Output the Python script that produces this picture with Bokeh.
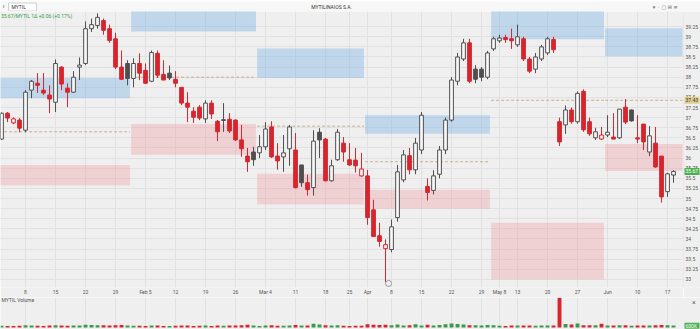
import numpy as np
import pandas as pd
from bokeh.plotting import figure
from bokeh.layouts import column, row
from bokeh.models import Range1d, FixedTicker, Grid
from bokeh.core.properties import value
from bokeh.embed import file_html
from bokeh.resources import INLINE

# ---------------- data ----------------
symbol = "MYTIL"
title = "MYTILINAIOS S.A."
holidays = ["2024-03-18", "2024-03-25", "2024-03-29", "2024-04-01",
            "2024-05-01", "2024-05-03", "2024-05-06", "2024-05-07"]
dates = pd.bdate_range("2024-01-02", "2024-06-18")
dates = dates[~dates.isin(pd.to_datetime(holidays))]

open_ = [36.47, 37.11, 36.87, 36.94, 36.69, 37.68, 37.85, 37.68, 37.56, 37.38,
         38.25, 37.73, 37.63, 38.25, 38.34, 39.20, 39.28, 39.40, 39.20, 38.95,
         38.25, 38.34, 37.97, 38.34, 38.17, 37.90, 38.59, 38.07, 38.10, 37.95,
         37.75, 37.36, 37.16, 37.26, 36.97, 37.36, 36.91, 36.95, 36.96, 36.94,
         36.45, 36.05, 36.15, 36.13, 36.28, 36.77, 36.05, 36.03, 36.23, 36.20,
         35.83, 35.39, 35.27, 36.64, 36.47, 35.44, 35.96, 36.37, 35.96, 35.95,
         35.56, 35.56, 34.72, 34.08, 33.76, 33.74, 34.53, 35.46, 36.06, 35.71,
         36.20, 35.30, 35.20, 35.60, 36.20, 36.94, 37.90, 38.45, 38.85, 38.20,
         38.20, 38.00, 38.70, 38.90, 38.98, 38.95, 38.80, 38.95, 38.45, 38.20,
         38.45, 38.60, 38.93, 36.90, 36.82, 37.19, 36.90, 37.65, 36.90, 36.50,
         36.47, 36.57, 36.52, 36.50, 37.26, 37.19, 36.50, 36.84, 36.15, 36.37,
         36.05, 35.17, 35.58]
high = [37.13, 37.14, 37.01, 36.99, 37.68, 37.93, 38.10, 38.10, 37.80, 38.44,
        38.27, 37.85, 38.15, 38.49, 39.38, 39.45, 39.58, 39.45, 39.30, 39.10,
        38.66, 38.42, 38.47, 38.59, 38.34, 38.66, 38.66, 38.42, 38.29, 38.15,
        37.75, 37.63, 37.26, 37.31, 37.43, 37.43, 36.94, 37.36, 37.11, 36.96,
        36.82, 36.25, 36.28, 36.57, 36.89, 36.91, 36.37, 36.57, 36.82, 36.62,
        35.83, 35.59, 36.69, 36.74, 36.50, 35.96, 36.72, 36.52, 36.37, 36.25,
        36.13, 35.71, 34.97, 34.40, 33.99, 34.48, 35.83, 36.20, 36.25, 36.50,
        37.14, 35.50, 35.70, 36.30, 37.00, 38.00, 38.60, 38.95, 38.95, 38.30,
        38.25, 38.65, 39.00, 39.05, 39.05, 39.20, 39.30, 39.00, 38.50, 38.60,
        38.80, 39.00, 39.00, 37.00, 37.30, 37.25, 37.65, 37.70, 37.00, 36.75,
        36.77, 37.06, 37.11, 37.21, 37.46, 37.20, 37.06, 36.84, 36.79, 36.77,
        36.05, 35.64, 35.70]
low = [36.45, 36.89, 36.84, 36.64, 36.64, 37.48, 37.61, 37.56, 37.11, 37.14,
       37.68, 37.26, 37.61, 37.93, 38.30, 39.12, 39.20, 39.05, 38.85, 38.20,
       37.93, 37.80, 37.75, 37.93, 37.85, 37.88, 37.98, 37.93, 37.93, 37.75,
       37.31, 36.89, 36.87, 36.94, 36.87, 36.97, 36.42, 36.65, 36.62, 36.42,
       36.03, 35.66, 35.81, 36.00, 36.20, 36.00, 35.71, 35.66, 35.81, 35.25,
       35.29, 35.07, 35.07, 36.00, 35.42, 35.42, 35.93, 35.91, 35.81, 35.64,
       35.54, 34.35, 34.06, 33.81, 32.93, 33.67, 34.43, 35.40, 35.60, 35.60,
       36.10, 34.95, 35.10, 35.50, 36.10, 36.90, 37.80, 38.40, 37.85, 37.85,
       37.90, 37.95, 38.65, 38.85, 38.85, 38.70, 38.75, 38.40, 38.10, 38.10,
       38.40, 38.55, 38.60, 36.30, 36.60, 36.85, 36.85, 36.65, 36.55, 36.45,
       36.45, 36.52, 36.47, 36.47, 36.84, 36.90, 36.37, 36.20, 36.05, 35.76,
       34.90, 35.04, 35.39]
close = [37.11, 36.99, 36.97, 36.74, 37.63, 37.90, 37.80, 37.61, 37.46, 38.34,
         37.83, 37.63, 38.00, 38.30, 39.20, 39.30, 39.48, 39.16, 38.91, 38.25,
         37.95, 37.97, 38.34, 38.10, 37.85, 38.61, 38.05, 37.93, 37.98, 37.85,
         37.36, 37.26, 37.01, 36.99, 37.36, 37.09, 36.65, 36.93, 36.67, 36.45,
         36.23, 35.91, 35.96, 36.28, 36.72, 36.03, 35.93, 36.13, 36.77, 35.27,
         35.39, 35.22, 36.42, 36.45, 35.44, 35.81, 36.64, 36.15, 35.83, 35.81,
         35.73, 34.53, 34.06, 33.94, 33.86, 34.30, 35.66, 36.08, 35.71, 36.37,
         37.06, 35.15, 35.56, 36.20, 36.94, 37.93, 38.50, 38.85, 37.90, 37.95,
         38.00, 38.60, 38.95, 38.97, 38.93, 38.90, 39.00, 38.45, 38.15, 38.50,
         38.75, 38.95, 38.68, 36.40, 37.19, 36.90, 37.60, 36.70, 36.60, 36.65,
         36.57, 36.64, 36.47, 37.21, 36.89, 36.92, 36.47, 36.40, 36.55, 35.78,
         35.04, 35.61, 35.67]
volume_k = [520, 480, 450, 510, 690, 620, 540, 480, 560, 710,
            580, 530, 600, 560, 820, 760, 700, 640, 590, 650,
            720, 560, 540, 500, 480, 610, 590, 470, 450, 520,
            630, 590, 480, 510, 560, 470, 600, 500, 560, 620,
            690, 820, 560, 480, 600, 640, 520, 500, 590, 770,
            620, 580, 1150, 900, 700, 560, 650, 520, 480, 500,
            540, 980, 860, 760, 820, 690, 900, 620, 680, 1000,
            560, 840, 600, 780, 980, 1200, 1100, 900, 700, 650,
            600, 750, 640, 520, 480, 560, 610, 590, 620, 540,
            560, 600, 620, 9200, 1100, 900, 1250, 700, 680, 640,
            1150, 620, 560, 700, 650, 540, 560, 600, 580, 640,
            720, 650, 600]

# monthly zones (Jan..Jun): resistance (blue), support (pink), pivot (dashed)
zone_months = [1, 2, 3, 4, 5, 6]
blue_top = [37.98, 39.70, 38.71, 37.06, 39.70, 39.21]
blue_bot = [37.48, 39.13, 37.98, 36.60, 38.94, 38.52]
pink_top = [35.83, 36.84, 35.61, 35.22, 34.40, 36.35]
pink_bot = [35.32, 36.08, 34.85, 34.75, 33.00, 35.68]
pivot = [36.65, 38.00, 36.79, 35.91, 37.43, 37.43]

tick_labels = ["8", "15", "22", "29", "Feb 5", "12", "19", "26", "Mar 4", "11", "18", "25",
               "Apr", "8", "15", "22", "29", "May 8", "13", "20", "27", "Jun", "10", "17"]
price_ticks = [33, 33.25, 33.5, 33.75, 34, 34.25, 34.5, 34.75, 35, 35.25, 35.5, 35.75,
               36, 36.25, 36.5, 36.75, 37, 37.25, 37.5, 37.75, 38, 38.25, 38.5, 38.75,
               39, 39.25]
event_date = "2024-04-05"

# ---------------- derived ----------------
BG = "#efefef"
GRID = "#e1e1e1"
RED = "#d7252e"
DARK = "#4f4f4f"
HOLLOW = "#f8f8f8"
GREEN = "#3a9a4c"
TAG_GREEN = "#4caf50"
TAG_YELLOW = "#e2cf8f"
FONT = "Roboto"
PX_PER_BAR = 6.0

N = len(dates)
idx = np.arange(N)
o = np.array(open_); c = np.array(close); hi = np.array(high); lo = np.array(low)
prev = np.r_[c[0], c[:-1]]
col = np.where(c < prev, RED, DARK)
fill = np.where(c >= o, HOLLOW, col)
vcol = np.where(c < prev, RED, GREEN)

wk = pd.Series(idx, index=dates)
week_first = wk.groupby(dates.to_period("W")).first().values
tick_idx = [int(t) for t in week_first if dates[t] >= pd.Timestamp("2024-01-08")]
overrides = {t: l for t, l in zip(tick_idx, tick_labels)}

mfirst = wk.groupby(dates.month).first()
mlast = wk.groupby(dates.month).last()
z_left = [mfirst[m] - 0.4 for m in zone_months]
z_right = [mlast[m] + 0.4 for m in zone_months]
z_right[-1] = mlast[zone_months[-1]] + 1.5

FRAME_W = 683
AXIS_W = 700 - FRAME_W
x0 = -0.17
xr = Range1d(x0, x0 + FRAME_W / PX_PER_BAR)
yr = Range1d(32.80, 39.625)

# ---------------- header ----------------
h = figure(width=700, height=11, x_range=Range1d(0, 700), y_range=Range1d(0, 11),
           output_backend="svg", toolbar_location=None, x_axis_location=None, y_axis_location=None,
           min_border=0, background_fill_color="#f7f7f7", border_fill_color="#f7f7f7",
           outline_line_color=None)
h.grid.visible = False
h.quad(left=[8], right=[36], bottom=[1.5], top=[9.5], fill_color="white", line_color="#d0d0d0")
h.text(x=[2], y=[5.5], text=["‹"], text_font_size="7px", text_baseline="middle",
       text_color="#555", text_font=value(FONT))
h.text(x=[11], y=[5.5], text=[symbol], text_font_size="5px", text_baseline="middle",
       text_color="#333", text_font=value(FONT))
h.text(x=[331], y=[5.5], text=[title], text_font_size="5px", text_baseline="middle",
       text_align="center", text_color="#333", text_font=value(FONT))
h.text(x=[668], y=[5.5], text=["▾  ◦  ▢  ⊟  ≡"], text_font_size="5px", text_baseline="middle",
       text_align="center", text_color="#666", text_font=value("DejaVu Sans"))
h.segment(x0=[0], x1=[700], y0=[0.3], y1=[0.3], line_color="#dcdcdc")

# ---------------- price pane ----------------
p = figure(width=FRAME_W, height=286, x_range=xr, y_range=yr,
           output_backend="svg", toolbar_location=None, y_axis_location=None,
           background_fill_color=BG, border_fill_color=BG, outline_line_color=None,
           min_border_left=0, min_border_right=0, min_border_top=0, min_border_bottom=9)
p.xaxis.ticker = FixedTicker(ticks=tick_idx)
p.xaxis.major_label_overrides = overrides
ax = p.xaxis[0]
ax.major_tick_out = 0
ax.major_tick_in = 0
ax.minor_tick_out = 0
ax.minor_tick_in = 0
ax.major_tick_line_color = None
ax.minor_tick_line_color = None
ax.axis_line_color = None
ax.major_label_text_font_size = "5px"
ax.major_label_text_color = "#555"
ax.major_label_text_font = FONT
ax.major_label_standoff = 1
p.xgrid.grid_line_color = GRID
p.add_layout(Grid(dimension=1, ticker=FixedTicker(ticks=price_ticks), grid_line_color=GRID))

p.quad(left=z_left, right=z_right, top=blue_top, bottom=blue_bot,
       fill_color="#7fb2e5", fill_alpha=0.42, line_color=None)
p.quad(left=z_left, right=z_right, top=pink_top, bottom=pink_bot,
       fill_color="#f08a96", fill_alpha=0.3, line_color=None)
p.segment(x0=z_left, x1=z_right, y0=pivot, y1=pivot, line_color="#c6b28a",
          line_dash="3 2", line_width=1)

p.segment(x0=idx, x1=idx, y0=hi, y1=lo, line_color=col, line_width=1)
p.vbar(x=idx, width=0.62, top=np.maximum(o, c), bottom=np.minimum(o, c),
       fill_color=fill, line_color=col, line_width=1)

ev = int(wk[pd.Timestamp(event_date)])
p.scatter(x=[ev + 0.5], y=[32.9], size=6, marker="circle", fill_color=BG, line_color="#9a9a9a")
p.text(x=[-0.1], y=[39.52], text=[f"{c[-1]:.2f}/{symbol} 1Δ +{c[-1]-c[-2]:.2f} (+{(c[-1]/c[-2]-1)*100:.2f}%)"],
       text_font_size="5px", text_color=GREEN, text_font=value(FONT), text_baseline="middle")

# ---------------- price scale strip (right) ----------------
r = figure(width=AXIS_W, height=286, x_range=Range1d(0, AXIS_W), y_range=yr,
           output_backend="svg", toolbar_location=None, x_axis_location=None, y_axis_location=None,
           background_fill_color=BG, border_fill_color=BG, outline_line_color=None,
           min_border_left=0, min_border_right=0, min_border_top=0, min_border_bottom=9)
r.grid.visible = False
r.segment(x0=[0], x1=[0], y0=[yr.start], y1=[yr.end], line_color="#dadada")
r.text(x=[2] * len(price_ticks), y=price_ticks, text=[f"{t:g}" for t in price_ticks],
       text_font_size="5px", text_color="#555", text_baseline="middle", text_font=value(FONT))
tag_y = [pivot[-1], c[-1]]
tag_txt = [f"{pivot[-1]:.2f}", f"{c[-1]:.2f}"]
r.rect(x=[8.5, 8.5], y=tag_y, width=[15, 15], height=[7, 7], height_units="screen",
       fill_color=[TAG_YELLOW, TAG_GREEN], line_color=None)
r.text(x=[2, 2], y=tag_y, text=tag_txt, text_font_size="5px", text_color=["#333", "white"],
       text_baseline="middle", text_font=value(FONT))

# ---------------- volume pane ----------------
vmax = max(volume_k)
v = figure(width=700, height=32, x_range=Range1d(x0, x0 + 700 / PX_PER_BAR),
           y_range=Range1d(-vmax * 0.07, vmax * 1.01),
           output_backend="svg", toolbar_location=None, x_axis_location=None, y_axis_location=None,
           background_fill_color=BG, border_fill_color=BG, outline_line_color=None,
           min_border=0)
v.xgrid.grid_line_color = GRID
v.xgrid.ticker = FixedTicker(ticks=tick_idx)
v.ygrid.visible = False
v.vbar(x=idx, width=0.65, top=volume_k, bottom=0, fill_color=vcol, line_color=None)
xa = x0 + (FRAME_W + 2) / PX_PER_BAR
v.text(x=[0], y=[vmax * 0.93], text=[f"{symbol} Volume"], text_font_size="5px",
       text_color="#555", text_font=value(FONT), text_baseline="middle")
v.text(x=[xa + 1.1], y=[vmax * 0.82], text=["×"], text_font_size="7px",
       text_color="#666", text_font=value(FONT), text_baseline="middle")
v.rect(x=[x0 + (FRAME_W + 8.5) / PX_PER_BAR], y=[vmax * 0.06], width=[15], width_units="screen",
       height=[6], height_units="screen", fill_color=TAG_GREEN, line_color=None)
v.text(x=[xa], y=[vmax * 0.06], text=[f"{volume_k[-1]}K"], text_font_size="5px",
       text_color="white", text_font=value(FONT), text_baseline="middle")

layout = column(h, row(p, r, spacing=0), v, spacing=0)
open("out.html", "w").write(file_html(layout, INLINE))
